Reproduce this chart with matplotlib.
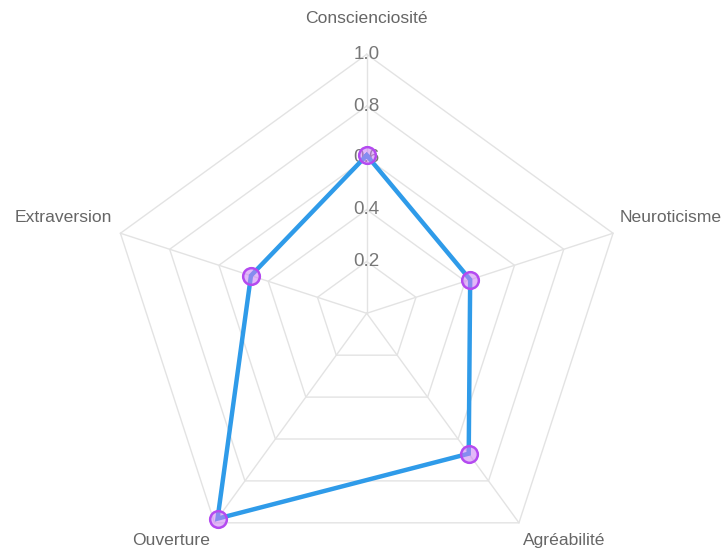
import numpy as np
import matplotlib
matplotlib.use('Agg')
import matplotlib.pyplot as plt

# radar data
categories = ['Conscienciosité', 'Neuroticisme', 'Agréabilité', 'Ouverture', 'Extraversion']
values = [0.61, 0.42, 0.67, 0.98, 0.47]
ticks = [0.2, 0.4, 0.6, 0.8, 1.0]
tick_labels = ['0.2', '0.4', '0.6', '0.8', '1.0']

plt.rcParams['font.family'] = ['Liberation Sans', 'DejaVu Sans']

n = len(categories)
ang = np.arange(n) * 2 * np.pi / n  # clockwise from top

def xy(r, a):
    return r * np.sin(a), r * np.cos(a)

fig = plt.figure(figsize=(7.24, 5.5), dpi=100)
ax = fig.add_axes([0, 0, 1, 1])
ax.set_xlim(-1.416, 1.3795)
ax.set_ylim(-0.914, 1.2097)
ax.set_axis_off()

grid_c = '#e3e3e3'
# pentagon rings
for t in ticks:
    a = np.append(ang, ang[0])
    gx, gy = xy(t, a)
    ax.plot(gx, gy, color=grid_c, lw=1, zorder=1)
# spokes
for a in ang:
    sx, sy = xy(1.0, a)
    ax.plot([0, sx], [0, sy], color=grid_c, lw=1, zorder=1)

# tick labels on the top axis
for t, lab in zip(ticks, tick_labels):
    ax.text(0, t, lab, ha='center', va='center', fontsize=13.5, color='#777777', zorder=2)

# point labels
lab_pos = [(0, 1.14, 'center', 'center'),
           (0.975, 0.368, 'left', 'center'),
           (0.605, -0.879, 'left', 'center'),
           (-0.605, -0.879, 'right', 'center'),
           (-0.985, 0.368, 'right', 'center')]
for c, (lx, ly, ha, va) in zip(categories, lab_pos):
    ax.text(lx, ly, c, ha=ha, va=va, fontsize=12.6, color='#666666')

# data line
a = np.append(ang, ang[0])
v = np.append(values, values[0])
dx, dy = xy(v, a)
ax.plot(dx, dy, color='#2f9be9', lw=3.2, zorder=3, solid_joinstyle='miter')
px, py = xy(np.array(values), ang)
ax.plot(px, py, 'o', ms=12, mfc=(0.80, 0.50, 0.96, 0.55), mec='#b44af0', mew=1.8, zorder=4)

fig.savefig('out.png', dpi=100)
